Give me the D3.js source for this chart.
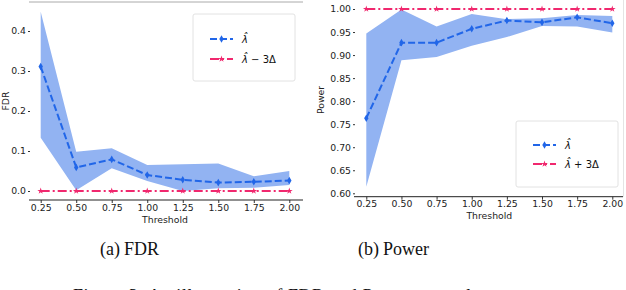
<!DOCTYPE html>
<html>
<head>
<meta charset="utf-8">
<script src="https://cdn.jsdelivr.net/npm/d3@7.9.0/dist/d3.min.js"></script>
<style>
  body { margin: 0; background: #fff; }
  svg { display: block; }
  .tick text { font-family: "DejaVu Sans", sans-serif; font-size: 9.3px; fill: #222; }
  .lab { font-family: "DejaVu Sans", sans-serif; font-size: 9.3px; fill: #222; }
  .cap { font-family: "Liberation Serif", serif; font-size: 18px; fill: #111; }
</style>
</head>
<body>
<svg id="fig" width="626" height="290"></svg>
<script>
const thresholds = [0.25, 0.5, 0.75, 1.0, 1.25, 1.5, 1.75, 2.0];
const xTicks = ['0.25', '0.50', '0.75', '1.00', '1.25', '1.50', '1.75', '2.00'];

const fdrMean = [0.311, 0.059, 0.079, 0.040, 0.028, 0.021, 0.023, 0.026];
const fdrUpper = [0.448, 0.098, 0.107, 0.065, 0.067, 0.069, 0.037, 0.050];
const fdrLower = [0.133, 0.002, 0.057, 0.025, 0.0, 0.007, 0.008, 0.015];
const fdrBound = [0, 0, 0, 0, 0, 0, 0, 0];
const fdrTicks = [0.0, 0.1, 0.2, 0.3, 0.4];

const powMean = [0.763, 0.927, 0.927, 0.957, 0.975, 0.971, 0.982, 0.969];
const powUpper = [0.947, 0.999, 0.962, 0.989, 0.978, 0.980, 0.987, 0.985];
const powLower = [0.614, 0.889, 0.896, 0.920, 0.939, 0.963, 0.962, 0.949];
const powBound = [1, 1, 1, 1, 1, 1, 1, 1];
const powTicks = [0.60, 0.65, 0.70, 0.75, 0.80, 0.85, 0.90, 0.95, 1.00];

const blue = '#2166e8', band = '#92b3f2', red = '#f0286e';
const svg = d3.select('#fig');

function panel(o) {
  const g = svg.append('g');
  const x = d3.scaleLinear().domain([0.25, 2.0]).range(o.xr);
  const y = d3.scaleLinear().domain(o.yd).range(o.yr);

  // band
  const area = d3.area()
    .x((d, i) => x(thresholds[i]))
    .y0((d, i) => y(o.lower[i]))
    .y1((d, i) => y(o.upper[i]));
  g.append('path').datum(o.mean).attr('d', area).attr('fill', band);

  const line = d3.line().x((d, i) => x(thresholds[i])).y(d => y(d));
  // bound line
  g.append('path').datum(o.bound).attr('d', line)
    .attr('fill', 'none').attr('stroke', red).attr('stroke-width', 2)
    .attr('stroke-dasharray', '9,3,2,3');
  const star = d3.symbol().type(d3.symbolStar).size(14);
  g.selectAll('.st').data(o.bound).join('path')
    .attr('transform', (d, i) => `translate(${x(thresholds[i])},${y(d)})`)
    .attr('d', star).attr('fill', red);

  // mean line
  g.append('path').datum(o.mean).attr('d', line)
    .attr('fill', 'none').attr('stroke', blue).attr('stroke-width', 2)
    .attr('stroke-dasharray', '7,3');
  g.selectAll('.dm').data(o.mean).join('path')
    .attr('d', 'M0,-3.8L2.2,0L0,3.8L-2.2,0Z')
    .attr('transform', (d, i) => `translate(${x(thresholds[i])},${y(d)})`)
    .attr('fill', blue);

  // axes
  const xa = g.append('g').attr('transform', `translate(0,${o.spineY})`)
    .call(d3.axisBottom(x).tickValues(thresholds).tickFormat((d, i) => xTicks[i]).tickSize(3).tickPadding(1));
  xa.select('.domain').remove();
  xa.selectAll('.tick line').attr('stroke', '#333');
  g.append('line').attr('x1', o.spineX[0]).attr('x2', o.spineX[1])
    .attr('y1', o.spineY).attr('y2', o.spineY).attr('stroke', '#222').attr('stroke-width', 1);

  const ya = g.append('g').attr('transform', `translate(${o.axisX},0)`)
    .call(d3.axisLeft(y).tickValues(o.yTicks).tickFormat(o.fmt).tickSize(2).tickPadding(2));
  ya.select('.domain').remove();
  ya.selectAll('.tick line').attr('stroke', '#333');

  g.append('text').attr('class', 'lab').attr('x', (o.xr[0] + o.xr[1]) / 2).attr('y', o.spineY + 22.5)
    .attr('text-anchor', 'middle').text('Threshold');
  g.append('text').attr('class', 'lab')
    .attr('transform', `translate(${o.ylabX},${o.ylabY}) rotate(-90)`)
    .attr('text-anchor', 'middle').text(o.ylabel);

  // legend
  const L = o.legend;
  g.append('rect').attr('x', L.x).attr('y', L.y).attr('width', L.w).attr('height', L.h)
    .attr('rx', 2).attr('fill', '#fff').attr('fill-opacity', 0.8).attr('stroke', '#e2e2e2');
  const rows = [
    { c: blue, dash: '7,3', mk: 'd', extra: '' },
    { c: red, dash: '9,3,2,3', mk: 's', extra: o.legendExtra }
  ];
  rows.forEach((r, k) => {
    const yy = L.y + L.r0 + k * L.dy;
    g.append('line').attr('x1', L.x + 17).attr('x2', L.x + 40).attr('y1', yy).attr('y2', yy)
      .attr('stroke', r.c).attr('stroke-width', 2).attr('stroke-dasharray', r.dash);
    const m = g.append('path').attr('transform', `translate(${L.x + 28.5},${yy})`).attr('fill', r.c);
    if (r.mk === 'd') m.attr('d', 'M0,-3.8L2.2,0L0,3.8L-2.2,0Z');
    else m.attr('d', star);
    const t = g.append('text').attr('x', L.x + 49).attr('y', yy + 3.5)
      .attr('font-family', 'DejaVu Sans, sans-serif').attr('font-size', 10).attr('fill', '#111');
    t.append('tspan').attr('font-style', 'italic').text('\u03BB\u0302');
    if (r.extra) t.append('tspan').text(r.extra);
  });
  return g;
}

// (a) FDR
panel({
  xr: [40.7, 289.3], yd: [0, 0.4], yr: [191, 31],
  mean: fdrMean, upper: fdrUpper, lower: fdrLower, bound: fdrBound,
  yTicks: fdrTicks, fmt: d3.format('.1f'),
  spineY: 200, spineX: [29, 303], axisX: 30,
  ylabel: 'FDR', ylabX: 9, ylabY: 101,
  legend: { x: 193, y: 14, w: 102, h: 67, r0: 25, dy: 20 },
  legendExtra: ' \u2212 3\u0394'
});
svg.append('line').attr('x1', 29).attr('x2', 303).attr('y1', 2).attr('y2', 2)
  .attr('stroke', '#aaa').attr('stroke-width', 1);

// (b) Power
panel({
  xr: [366.3, 612.3], yd: [0.6, 1.0], yr: [193.3, 9],
  mean: powMean, upper: powUpper, lower: powLower, bound: powBound,
  yTicks: powTicks, fmt: d3.format('.2f'),
  spineY: 196.7, spineX: [354, 623], axisX: 355,
  ylabel: 'Power', ylabX: 324, ylabY: 100,
  legend: { x: 516, y: 121, w: 102, h: 66, r0: 24, dy: 19 },
  legendExtra: ' + 3\u0394'
});
svg.append('line').attr('x1', 623.5).attr('x2', 623.5).attr('y1', 0).attr('y2', 196.7)
  .attr('stroke', '#e4e4e4').attr('stroke-width', 1);

// captions
svg.append('text').attr('class', 'cap').attr('x', 100).attr('y', 255).text('(a)');
svg.append('text').attr('class', 'cap').attr('x', 124).attr('y', 255).text('FDR');
svg.append('text').attr('class', 'cap').attr('x', 358).attr('y', 255).text('(b)');
svg.append('text').attr('class', 'cap').attr('x', 383).attr('y', 255).text('Power');
svg.append('text').attr('class', 'cap').attr('x', 73).attr('y', 302)
  .attr('font-size', 19).attr('letter-spacing', 0.6)
  .text('Figure 3: An illustration of FDR and Power control');
</script>
</body>
</html>
